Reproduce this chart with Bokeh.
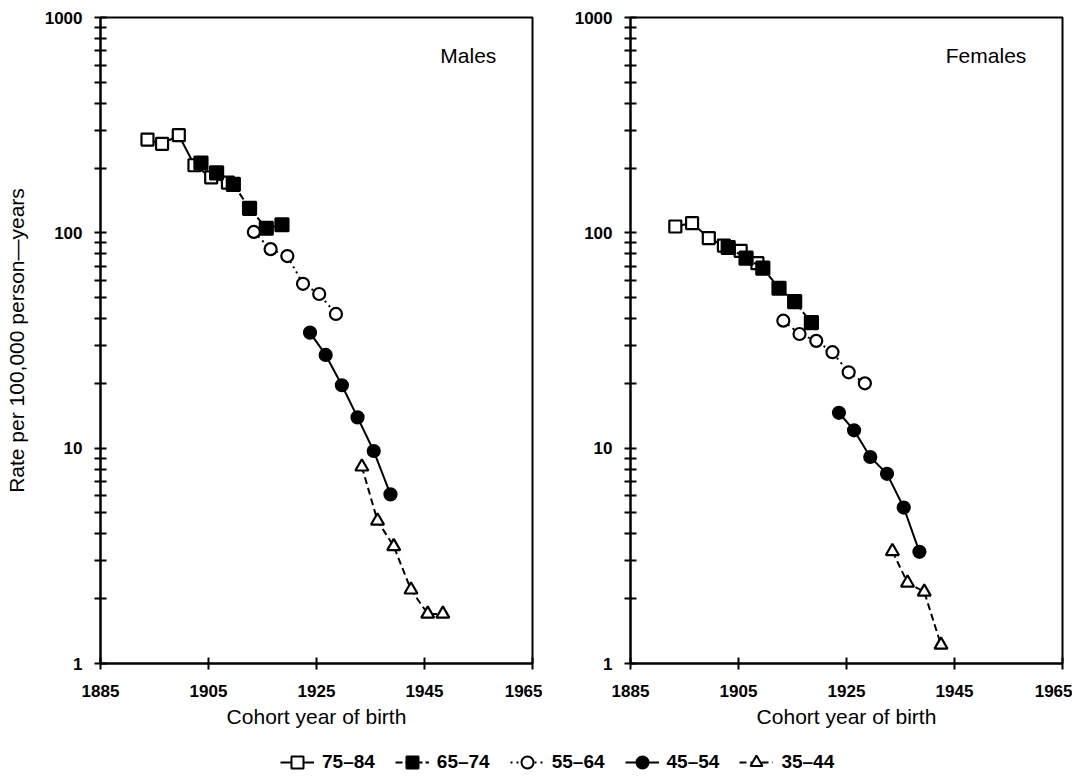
from bokeh.plotting import figure
from bokeh.models import (FixedTicker, Range1d, Label, Legend, LegendItem,
                          ColumnDataSource, CustomJSTickFormatter)
from bokeh.layouts import column, row
from bokeh.embed import file_html
from bokeh.resources import INLINE

# ---------------- data ----------------
age_groups = ["75\u201384", "65\u201374", "55\u201364", "45\u201354", "35\u201344"]

male_75_years = [1893.7, 1896.4, 1899.5, 1902.4, 1905.5, 1908.6]
male_75_rates = [271, 259, 284, 206, 181, 171]
male_65_years = [1903.6, 1906.5, 1909.6, 1912.6, 1915.7, 1918.6]
male_65_rates = [211, 190, 168, 130, 105, 109]
male_55_years = [1913.4, 1916.5, 1919.6, 1922.5, 1925.5, 1928.6]
male_55_rates = [101, 84, 78, 58, 52, 42]
male_45_years = [1923.8, 1926.7, 1929.7, 1932.6, 1935.6, 1938.7]
male_45_rates = [34.4, 27.1, 19.6, 13.9, 9.7, 6.1]
male_35_years = [1933.4, 1936.3, 1939.3, 1942.5, 1945.6, 1948.4]
male_35_rates = [8.2, 4.6, 3.5, 2.2, 1.7, 1.7]

female_75_years = [1893.3, 1896.4, 1899.5, 1902.3, 1905.4, 1908.5]
female_75_rates = [107, 111, 94.5, 87.3, 82.5, 72.3]
female_65_years = [1903.1, 1906.4, 1909.5, 1912.5, 1915.4, 1918.5]
female_65_rates = [85.5, 76.3, 68.5, 55.3, 47.9, 38.3]
female_55_years = [1913.3, 1916.3, 1919.4, 1922.4, 1925.4, 1928.4]
female_55_rates = [39.1, 33.9, 31.5, 27.9, 22.5, 20.0]
female_45_years = [1923.6, 1926.4, 1929.4, 1932.5, 1935.6, 1938.5]
female_45_rates = [14.6, 12.1, 9.1, 7.6, 5.3, 3.3]
female_35_years = [1933.5, 1936.3, 1939.4, 1942.5]
female_35_rates = [3.32, 2.37, 2.15, 1.22]

x_ticks = [1885, 1905, 1925, 1945, 1965]
y_ticks = [1, 10, 100, 1000]
y_minor = [m * 10 ** e for e in range(3) for m in range(2, 10)]

FONT = "Liberation Sans"

# series styles: (marker, fill, line_dash, marker size)
styles = [
    ("square", "white", "solid", 12),
    ("square", "black", "7 3", 13),
    ("circle", "white", "2 4", 12),
    ("circle", "black", "solid", 12),
    ("triangle", "white", "7 4", 13),
]

TOP, FRAME_H, BOTTOM = 17, 646, 84


def make_panel(series, title, show_ylabel, border_left, border_right):
    p = figure(width=border_left + 432 + border_right, height=TOP + FRAME_H + BOTTOM,
               y_axis_type="log", x_range=Range1d(1885, 1965), y_range=Range1d(1, 1000),
               output_backend="svg", toolbar_location=None,
               min_border_left=border_left, min_border_right=border_right,
               min_border_top=TOP, min_border_bottom=BOTTOM)
    p.xgrid.visible = False
    p.ygrid.visible = False
    p.outline_line_color = "black"
    p.outline_line_width = 2
    p.background_fill_color = "white"
    p.border_fill_color = "white"

    p.xaxis.ticker = FixedTicker(ticks=x_ticks, minor_ticks=[])
    p.yaxis.ticker = FixedTicker(ticks=y_ticks, minor_ticks=y_minor)
    p.yaxis.formatter = CustomJSTickFormatter(code="return String(Math.round(tick));")

    for ax in (p.xaxis[0], p.yaxis[0]):
        ax.axis_line_width = 2
        ax.axis_line_color = "black"
        ax.major_tick_line_width = 2
        ax.minor_tick_line_width = 2
        ax.major_tick_in = 6
        ax.major_tick_out = 6
        ax.minor_tick_in = 6
        ax.minor_tick_out = 6
        ax.major_label_text_font = FONT
        ax.major_label_text_font_size = "17px"
        ax.major_label_text_font_style = "bold"
        ax.major_label_text_color = "black"
        ax.axis_label_text_font = FONT
        ax.axis_label_text_font_size = "21px"
        ax.axis_label_text_font_style = "normal"
        ax.axis_label_text_color = "black"

    p.xaxis.major_label_standoff = 15
    p.yaxis.major_label_standoff = 12
    p.xaxis.axis_label = "Cohort year of birth"
    p.xaxis.axis_label_standoff = 5
    if show_ylabel:
        p.yaxis.axis_label = "Rate per 100,000 person\u2014years"
        p.yaxis.axis_label_standoff = 14

    for (xs, ys), (marker, fill, dash, size) in zip(series, styles):
        src = ColumnDataSource(dict(x=xs, y=ys))
        p.line("x", "y", source=src, line_color="black", line_width=2, line_dash=dash)
        p.scatter("x", "y", source=src, marker=marker, size=size, fill_color=fill,
                  line_color="black", line_width=2.2)

    p.add_layout(Label(x=1958.3, y=669, text=title, text_align="right",
                       text_baseline="middle", text_font=FONT,
                       text_font_size="21px", text_color="black"))
    return p


males = [(male_75_years, male_75_rates), (male_65_years, male_65_rates),
         (male_55_years, male_55_rates), (male_45_years, male_45_rates),
         (male_35_years, male_35_rates)]
females = [(female_75_years, female_75_rates), (female_65_years, female_65_rates),
           (female_55_years, female_55_rates), (female_45_years, female_45_rates),
           (female_35_years, female_35_rates)]

p1 = make_panel(males, "Males", True, 100, 10)
p2 = make_panel(females, "Females", False, 88, 10)

# legend strip
lg = figure(width=1070, height=30, output_backend="svg", toolbar_location=None,
            x_range=Range1d(0, 1), y_range=Range1d(0, 1),
            x_axis_location=None, y_axis_location=None,
            min_border=0, min_border_left=0, min_border_right=0,
            min_border_top=0, min_border_bottom=0)
lg.outline_line_color = None
lg.xgrid.visible = False
lg.ygrid.visible = False
items = []
for label, (marker, fill, dash, size) in zip(age_groups, styles):
    src = ColumnDataSource(dict(x=[-5], y=[-5]))  # off-range, only for legend glyphs
    r1 = lg.line("x", "y", source=src, line_color="black", line_width=2, line_dash=dash)
    r2 = lg.scatter("x", "y", source=src, marker=marker, size=size, fill_color=fill,
                    line_color="black", line_width=2)
    items.append(LegendItem(label=label, renderers=[r1, r2]))
legend = Legend(items=items, orientation="horizontal", location=(280, 0),
                border_line_color=None, background_fill_alpha=0,
                label_text_font=FONT, label_text_font_size="19px",
                label_text_font_style="bold", label_text_color="black",
                label_standoff=8, glyph_width=34, glyph_height=30,
                spacing=20, padding=0, margin=0)
lg.add_layout(legend)

layout = column(row(p1, p2), lg)

with open("out.html", "w") as f:
    f.write(file_html(layout, INLINE))
